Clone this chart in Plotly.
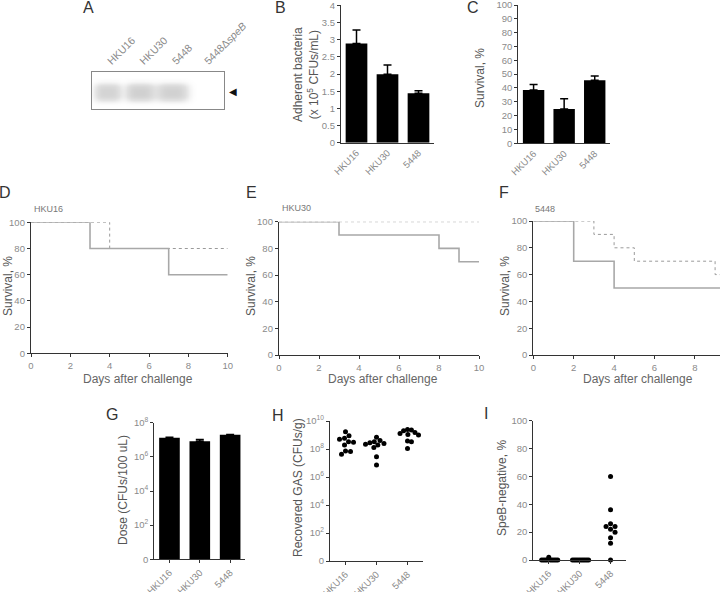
import numpy as np
import plotly.graph_objects as go

W, H = 720, 592
FONT = "Liberation Sans, Arial, sans-serif"

# ---------------- data ----------------
lanes_A = ["HKU16", "HKU30", "5448", "5448Δ<i>speB</i>"]
band_intensity_A = [0.9, 1.0, 0.97, 0.0]
band_width_A = [0.42, 0.45, 0.5, 0.4]

strains = ["HKU16", "HKU30", "5448"]
adherent_mean = [2.89, 1.99, 1.44]
adherent_sem = [0.39, 0.27, 0.07]

survival_mean = [38.5, 24.8, 45.5]
survival_sem = [4.1, 7.5, 3.2]

# Kaplan-Meier curves (day, survival %)
D_solid_t = [0, 3, 7, 10]; D_solid_s = [100, 80, 60, 60]
D_dash_t = [0, 4, 10];     D_dash_s = [100, 80, 80]
E_solid_t = [0, 3, 8, 9, 10]; E_solid_s = [100, 90, 80, 70, 70]
E_dash_t = [0, 10];           E_dash_s = [100, 100]
F_solid_t = [0, 2, 4, 10];       F_solid_s = [100, 70, 50, 50]
F_dash_t = [0, 3, 4, 5, 9, 10];  F_dash_s = [100, 90, 80, 70, 60, 60]

dose_mean = [1.3e7, 8.3e6, 2.0e7]
dose_sem = [1.2e6, 2.2e6, 0.5e6]

recovered_HKU16 = [4.9e8, 5.8e8, 3.0e8, 1.7e9, 8.9e8, 3.3e8, 1.9e8, 7.2e7, 4.2e7, 6.5e7]
recovered_HKU30 = [6.8e8, 3.3e8, 2.8e8, 1.9e8, 4.0e8, 2.5e8, 2.2e8, 1.3e8, 2.8e7, 7.2e6]
recovered_5448 = [2.5e9, 2.3e9, 2.0e9, 1.5e9, 1.3e9, 1.1e9, 1.0e9, 3.7e8, 3.3e8, 1.1e8]

speb_HKU16 = [0, 0, 0, 0, 0, 0, 0, 0, 0, 2]
speb_HKU30 = [0, 0, 0, 0, 0, 0, 0, 0, 0, 0]
speb_5448 = [60, 36, 24, 26, 24, 20, 22, 16, 12, 0]

# ---------------- helpers ----------------
def dx(a, b):
    return [a / W, b / W]

def dy(top, bottom):
    return [1 - bottom / H, 1 - top / H]

AX = dict(showline=True, linecolor="#333", linewidth=1.3, ticks="outside",
          ticklen=3, tickwidth=1.1, tickcolor="#333", showgrid=False,
          zeroline=False, automargin=False, ticklabeloverflow="allow",
          tickfont=dict(family=FONT, size=9.5, color="#8a8a8a"))

def swarm(vals_px, d, maxw):
    vals_px = np.asarray(vals_px, float)
    order = np.argsort(-vals_px, kind="stable")
    placed = []
    offs = np.zeros(len(vals_px))
    cands = [0.0]
    for k in range(1, 80):
        cands += [k * 0.5, -k * 0.5]
    for i in order:
        v = vals_px[i]
        for c in cands:
            if all((c - ox) ** 2 + (v - ov) ** 2 >= d * d for ox, ov in placed):
                break
        placed.append((c, v))
        offs[i] = c
    m = np.abs(offs).max()
    if m > maxw:
        offs = offs * maxw / m
    return offs

fig = go.Figure()

# ---------------- A: gel ----------------
gx = np.linspace(-0.5, 3.59, 300)
gy = np.linspace(0, 1, 70)
X, Y = np.meshgrid(gx, gy)
Z = np.zeros_like(X)
for i, (amp, w) in enumerate(zip(band_intensity_A, band_width_A)):
    Z += amp * np.exp(-(np.abs(X - i) / w) ** 3.5 - (np.abs(Y - 0.45) / 0.24) ** 3.0)
fig.add_trace(go.Heatmap(x=gx, y=gy, z=Z, zmin=0, zmax=1.0, showscale=False,
                         colorscale=[[0, "#ffffff"], [0.5, "#e2e2e2"], [1, "#d0d0d0"]],
                         hoverinfo="skip", xaxis="x", yaxis="y"))

# ---------------- B ----------------
cats = [0, 1, 2]
fig.add_trace(go.Bar(x=cats, y=adherent_mean, width=0.7, marker_color="black",
                     error_y=dict(type="data", array=adherent_sem, arrayminus=[0] * 3,
                                  symmetric=False, color="black", thickness=1.5, width=4),
                     xaxis="x2", yaxis="y2"))
# ---------------- C ----------------
fig.add_trace(go.Bar(x=cats, y=survival_mean, width=0.7, marker_color="black",
                     error_y=dict(type="data", array=survival_sem, arrayminus=[0] * 3,
                                  symmetric=False, color="black", thickness=1.5, width=4),
                     xaxis="x3", yaxis="y3"))

# ---------------- D/E/F ----------------
for (ts, ss, td, sd, ax) in [(D_solid_t, D_solid_s, D_dash_t, D_dash_s, "4"),
                             (E_solid_t, E_solid_s, E_dash_t, E_dash_s, "5"),
                             (F_solid_t, F_solid_s, F_dash_t, F_dash_s, "6")]:
    fig.add_trace(go.Scatter(x=td, y=sd, mode="lines", line_shape="hv",
                             line=dict(color="#9a9a9a", width=1, dash="dot"),
                             xaxis="x" + ax, yaxis="y" + ax, cliponaxis=False))
    fig.add_trace(go.Scatter(x=ts, y=ss, mode="lines", line_shape="hv",
                             line=dict(color="#a8a8a8", width=1.6),
                             xaxis="x" + ax, yaxis="y" + ax, cliponaxis=False))

# ---------------- G ----------------
fig.add_trace(go.Bar(x=cats, y=dose_mean, width=0.68, marker_color="black",
                     error_y=dict(type="data", array=dose_sem, arrayminus=[0] * 3,
                                  symmetric=False, color="black", thickness=1.5, width=4),
                     xaxis="x7", yaxis="y7"))

# ---------------- H ----------------
H_cat_px = 31.0
for i, grp in enumerate([recovered_HKU16, recovered_HKU30, recovered_5448]):
    vpx = np.log10(grp) * 14.0
    offs = swarm(vpx, 5.0, 11)
    fig.add_trace(go.Scatter(x=i + offs / H_cat_px, y=grp, mode="markers",
                             marker=dict(color="black", size=5),
                             xaxis="x8", yaxis="y8", cliponaxis=False))

# ---------------- I ----------------
for i, grp in enumerate([speb_HKU16, speb_HKU30, speb_5448]):
    vpx = np.asarray(grp) * 1.395
    offs = swarm(vpx, 5.0, 9)
    fig.add_trace(go.Scatter(x=i + offs / 31.0, y=grp, mode="markers",
                             marker=dict(color="black", size=5),
                             xaxis="x9", yaxis="y9", cliponaxis=False))

# ---------------- layout ----------------
lay = dict(template="none", width=W, height=H, margin=dict(l=0, r=0, t=0, b=0, pad=0),
           autosize=False, paper_bgcolor="white", plot_bgcolor="white", showlegend=False,
           font=dict(family=FONT, color="#555"))

# A axes
lay["xaxis"] = dict(domain=dx(92, 224), range=[-0.5, 3.59], side="top",
                    tickvals=[0, 1, 2, 3], ticktext=lanes_A, tickangle=-45,
                    showline=True, mirror=True, linecolor="#888", linewidth=1,
                    ticks="", showgrid=False, zeroline=False, anchor="y", automargin=False,
                    ticklabeloverflow="allow",
                    tickfont=dict(family=FONT, size=10.5, color="#8a8a8a"))
lay["yaxis"] = dict(domain=dy(72, 109), range=[0, 1], showline=True, mirror=True,
                    linecolor="#888", linewidth=1, showticklabels=False, ticks="",
                    showgrid=False, zeroline=False, anchor="x", automargin=False)

cat_ticks = dict(tickvals=cats, ticktext=strains, tickangle=-45, range=[-0.5, 2.5])

lay["xaxis2"] = dict(AX, domain=dx(341, 434), anchor="y2", ticks="", **cat_ticks)
lay["yaxis2"] = dict(AX, domain=dy(5.3, 142.7), anchor="x2", range=[0, 4], dtick=0.5)
lay["xaxis3"] = dict(AX, domain=dx(518.3, 610), anchor="y3", ticks="", **cat_ticks)
lay["yaxis3"] = dict(AX, domain=dy(5, 143.3), anchor="x3", range=[0, 100], dtick=10)

lay["xaxis4"] = dict(AX, domain=dx(31, 227.7), anchor="y4", range=[0, 10], dtick=2)
lay["yaxis4"] = dict(AX, domain=dy(222.3, 353.3), anchor="x4", range=[0, 100], dtick=20)
lay["xaxis5"] = dict(AX, domain=dx(279, 479), anchor="y5", range=[0, 10], dtick=2)
lay["yaxis5"] = dict(AX, domain=dy(221.7, 355), anchor="x5", range=[0, 100], dtick=20)
lay["xaxis6"] = dict(AX, domain=dx(533.3, 720), anchor="y6",
                     range=[0, (720 - 533.3) / 20.2], tickvals=[0, 2, 4, 6, 8])
lay["yaxis6"] = dict(AX, domain=dy(221, 355), anchor="x6", range=[0, 100], dtick=20)

lay["xaxis7"] = dict(AX, domain=dx(154.3, 245.3), anchor="y7", **cat_ticks)
lay["yaxis7"] = dict(AX, domain=dy(422.7, 559.3), anchor="x7", type="log", range=[0, 8],
                     tickvals=[1, 1e2, 1e4, 1e6, 1e8],
                     ticktext=["0", "10<sup>2</sup>", "10<sup>4</sup>", "10<sup>6</sup>", "10<sup>8</sup>"])
lay["xaxis8"] = dict(AX, domain=dx(330, 423), anchor="y8", **cat_ticks)
lay["yaxis8"] = dict(AX, domain=dy(421, 561), anchor="x8", type="log", range=[0, 10],
                     tickvals=[1, 1e2, 1e4, 1e6, 1e8, 1e10],
                     ticktext=["0", "10<sup>2</sup>", "10<sup>4</sup>", "10<sup>6</sup>",
                               "10<sup>8</sup>", "10<sup>10</sup>"])
lay["xaxis9"] = dict(AX, domain=dx(533.3, 626), anchor="y9", **cat_ticks)
lay["yaxis9"] = dict(AX, domain=dy(420.7, 560), anchor="x9", range=[0, 100], dtick=20)

ann = []
def text(x, y, s, size=12, color="#555", angle=0, xa="center", ya="middle"):
    ann.append(dict(x=x / W, y=1 - y / H, xref="paper", yref="paper", text=s,
                    showarrow=False, textangle=angle, xanchor=xa, yanchor=ya,
                    font=dict(family=FONT, size=size, color=color)))

# panel letters
for L, x, y in [("A", 88, 8), ("B", 280, 8), ("C", 473, 8), ("D", 5, 193),
                ("E", 251, 193), ("F", 504, 193), ("G", 112, 414),
                ("H", 278, 415), ("I", 486, 413)]:
    text(x, y, L, size=16, color="#333")

# y titles
text(306, 75, "Adherent bacteria<br>(x 10<sup>5</sup> CFUs/mL)", size=12, angle=-90)
text(480, 78, "Survival, %", size=12, angle=-90)
text(8, 286, "Survival, %", size=12, angle=-90)
text(251, 286, "Survival, %", size=12, angle=-90)
text(505, 286, "Survival, %", size=12, angle=-90)
text(123, 490, "Dose (CFUs/100 uL)", size=12, angle=-90)
text(298, 488, "Recovered GAS (CFUs/g)", size=12, angle=-90)
text(502, 488, "SpeB-negative, %", size=12, angle=-90)

# x titles
text(138, 379, "Days after challenge", size=12, color="#666")
text(383, 379, "Days after challenge", size=12, color="#666")
text(638, 379, "Days after challenge", size=12, color="#666")

# KM panel titles
text(32, 209, "HKU16", size=9, color="#777", xa="left")
text(280, 208, "HKU30", size=9, color="#777", xa="left")
text(533, 209, "5448", size=9, color="#777", xa="left")

# gel arrow
text(233, 91, "◀", size=10, color="#111")

lay["annotations"] = ann
fig.update_layout(**lay)
fig.write_html("out.html", config={"displayModeBar": False},
               post_script="document.body.style.margin='0';document.body.style.overflow='hidden';")
